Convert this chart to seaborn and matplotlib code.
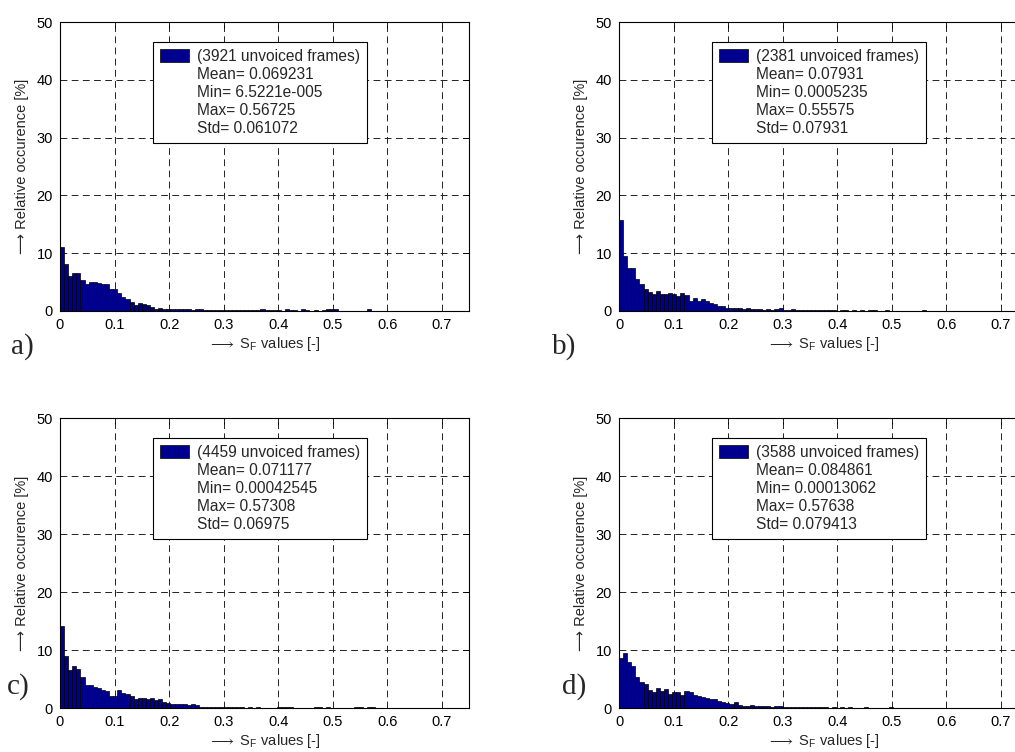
import numpy as np
import pandas as pd
import matplotlib
matplotlib.use("Agg")
import matplotlib.pyplot as plt
import seaborn as sns
from matplotlib.patches import Patch

# ---------------- data (relative occurrence [%] per bin, 100 bins over 0..0.75) -------------
freq_a = [11.0, 8.2, 6.0, 6.5, 6.5, 5.4, 4.6, 5.0, 5.0, 4.85,
          4.6, 4.6, 3.75, 3.75, 3.2, 2.4, 2.1, 1.6, 1.1, 1.3,
          1.2, 1.0, 0.7, 0.4, 0.45, 0.3, 0.35, 0.3, 0.35, 0.3,
          0.35, 0.3, 0.25, 0.4, 0.35, 0.25, 0.2, 0.2, 0.2, 0.15,
          0.2, 0.15, 0.2, 0.2, 0.15, 0.15, 0.1, 0.1, 0.1, 0.3,
          0.1, 0.1, 0.1, 0.1, 0.05, 0.3, 0.1, 0.1, 0.05, 0.3,
          0.1, 0.05, 0.1, 0.05, 0.1, 0.3, 0.3, 0.3, 0.05, 0.05,
          0.05, 0.05, 0.05, 0.05, 0.05, 0.3, 0, 0, 0, 0,
          0, 0, 0, 0, 0, 0, 0, 0, 0, 0,
          0, 0, 0, 0, 0, 0, 0, 0, 0, 0]
freq_b = [15.8, 9.5, 7.4, 7.4, 5.6, 4.6, 3.75, 3.3, 3.0, 3.5,
          2.9, 2.9, 3.1, 2.9, 2.55, 3.1, 2.7, 1.7, 2.3, 1.7,
          2.15, 1.7, 1.4, 1.15, 0.9, 0.8, 0.6, 0.5, 0.55, 0.45,
          0.35, 0.45, 0.3, 0.3, 0.35, 0.25, 0.3, 0.2, 0.3, 0.6,
          0.2, 0.15, 0.3, 0.2, 0.2, 0.15, 0.2, 0.1, 0.15, 0.1,
          0.1, 0.2, 0.1, 0.05, 0.1, 0.1, 0.05, 0.1, 0.05, 0.2,
          0.05, 0.1, 0.2, 0.05, 0.05, 0.2, 0.05, 0.05, 0.05, 0.05,
          0.05, 0.05, 0.05, 0.05, 0.1, 0, 0, 0, 0, 0,
          0, 0, 0, 0, 0, 0, 0, 0, 0, 0,
          0, 0, 0, 0, 0, 0, 0, 0, 0, 0]
freq_c = [14.1, 9.0, 6.6, 7.2, 6.8, 5.4, 3.95, 3.95, 3.7, 3.5,
          3.1, 2.9, 2.1, 2.1, 3.1, 2.65, 2.5, 2.15, 1.6, 1.7,
          1.7, 1.6, 1.7, 1.4, 1.5, 1.1, 0.85, 0.7, 0.7, 0.7,
          0.7, 0.55, 0.65, 0.5, 0.2, 0.15, 0.2, 0.15, 0.15, 0.15,
          0.2, 0.1, 0.15, 0.1, 0.1, 0.05, 0.1, 0.05, 0.15, 0.05,
          0.05, 0.05, 0.05, 0.15, 0.15, 0.1, 0.1, 0.05, 0.05, 0.05,
          0.05, 0.05, 0.1, 0.15, 0.05, 0.15, 0.05, 0.05, 0.05, 0.05,
          0.05, 0.05, 0.1, 0.15, 0.05, 0.15, 0.1, 0, 0, 0,
          0, 0, 0, 0, 0, 0, 0, 0, 0, 0,
          0, 0, 0, 0, 0, 0, 0, 0, 0, 0]
freq_d = [8.6, 9.4, 8.0, 7.2, 5.4, 4.5, 4.1, 3.1, 2.7, 3.5,
          3.0, 3.3, 2.4, 2.7, 2.7, 2.25, 2.9, 2.7, 2.25, 2.15,
          1.85, 1.7, 1.5, 1.5, 1.25, 1.0, 0.85, 0.75, 1.0, 0.6,
          0.4, 0.3, 0.45, 0.3, 0.3, 0.3, 0.3, 0.25, 0.3, 0.3,
          0.2, 0.2, 0.15, 0.2, 0.15, 0.1, 0.15, 0.1, 0.1, 0.15,
          0.1, 0.05, 0.1, 0.05, 0.1, 0.05, 0.1, 0.05, 0.05, 0.05,
          0.1, 0.05, 0.05, 0.05, 0.05, 0.05, 0.1, 0.05, 0.05, 0.05,
          0.05, 0.05, 0.05, 0.05, 0.05, 0.05, 0.05, 0, 0, 0,
          0, 0, 0, 0, 0, 0, 0, 0, 0, 0,
          0, 0, 0, 0, 0, 0, 0, 0, 0, 0]

panel_letters = ["a)", "b)", "c)", "d)"]
frame_counts = [3921, 2381, 4459, 3588]
means = ["0.069231", "0.07931", "0.071177", "0.084861"]
mins = ["6.5221e-005", "0.0005235", "0.00042545", "0.00013062"]
maxs = ["0.56725", "0.55575", "0.57308", "0.57638"]
stds = ["0.061072", "0.07931", "0.06975", "0.079413"]

x_ticks = [0, 0.1, 0.2, 0.3, 0.4, 0.5, 0.6, 0.7]
x_tick_labels = ["0", "0.1", "0.2", "0.3", "0.4", "0.5", "0.6", "0.7"]
y_ticks = [0, 10, 20, 30, 40, 50]
y_tick_labels = ["0", "10", "20", "30", "40", "50"]

n_bins = 100
x_max = 0.75
bin_width = x_max / n_bins
bin_centers = (np.arange(n_bins) + 0.5) * bin_width

# ---------------- style -------------
sns.set_theme(style="white")
plt.rcParams["font.family"] = ["Liberation Sans", "DejaVu Sans"]
plt.rcParams["mathtext.fontset"] = "custom"
plt.rcParams["mathtext.rm"] = "Liberation Sans"
plt.rcParams["mathtext.it"] = "Liberation Sans"
plt.rcParams["mathtext.fallback"] = "stixsans"

W, H = 1015, 752
fig = plt.figure(figsize=(W / 100, H / 100), dpi=100)
fig.patch.set_facecolor("white")

# axes boxes in pixels: (left, top, width, height)
boxes = [(60, 22, 409, 289), (619, 22, 409, 289),
         (60, 418, 409, 290), (619, 418, 409, 290)]
letter_pos = [(11, 354), (552, 354), (7, 694), (562, 694)]
freqs = [freq_a, freq_b, freq_c, freq_d]

FS = 10.5
LFS = 11.2
for i in range(4):
    l, t, w, h = boxes[i]
    ax = fig.add_axes([l / W, 1 - (t + h) / H, w / W, h / H])
    df = pd.DataFrame({"sf": bin_centers, "occ": freqs[i]})
    sns.histplot(data=df, x="sf", weights="occ", binwidth=bin_width,
                 binrange=(0, x_max), ax=ax,
                 color="#00008F", edgecolor="black", linewidth=0.5,
                 alpha=1.0, stat="count")
    ax.set_xlim(0, x_max)
    ax.set_ylim(0, 50)
    ax.set_xticks(x_ticks)
    ax.set_xticklabels(x_tick_labels)
    ax.set_yticks(y_ticks)
    ax.set_yticklabels(y_tick_labels)
    ax.tick_params(direction="in", top=True, right=True, length=4,
                   width=0.6, labelsize=FS, pad=5, colors="black")
    ax.grid(True, linestyle=(0, (7, 4.5)), color="#222222", linewidth=0.7)
    ax.set_axisbelow(True)
    for s in ax.spines.values():
        s.set_color("black")
        s.set_linewidth(0.8)

    ax.set_xlabel("$\\longrightarrow$ $\\mathregular{S_F}$ values [-]",
                  fontsize=FS, labelpad=2)
    ax.set_ylabel("\u27f6 Relative occurence [%]", fontsize=FS)
    ax.yaxis.set_label_coords(-0.076, 0.5)

    handles = [ax.patches[0]] + [Patch(facecolor="none", edgecolor="none")] * 4
    labels = [f"({frame_counts[i]} unvoiced frames)",
              f"Mean= {means[i]}", f"Min= {mins[i]}",
              f"Max= {maxs[i]}", f"Std= {stds[i]}"]
    leg = ax.legend(handles, labels, loc="upper left",
                    bbox_to_anchor=(0.227, 0.931), bbox_transform=ax.transAxes,
                    borderaxespad=0, frameon=True, fancybox=False,
                    edgecolor="black", framealpha=1, fontsize=LFS,
                    handlelength=1.85, handleheight=0.9, handletextpad=0.55,
                    labelspacing=0.2, borderpad=0.45)
    leg.get_frame().set_linewidth(0.8)

    lx, ly = letter_pos[i]
    fig.text(lx / W, 1 - ly / H, panel_letters[i], fontsize=21,
             family=["Liberation Serif", "DejaVu Serif"], ha="left",
             va="baseline")

fig.savefig("out.png", dpi=100, facecolor="white")
